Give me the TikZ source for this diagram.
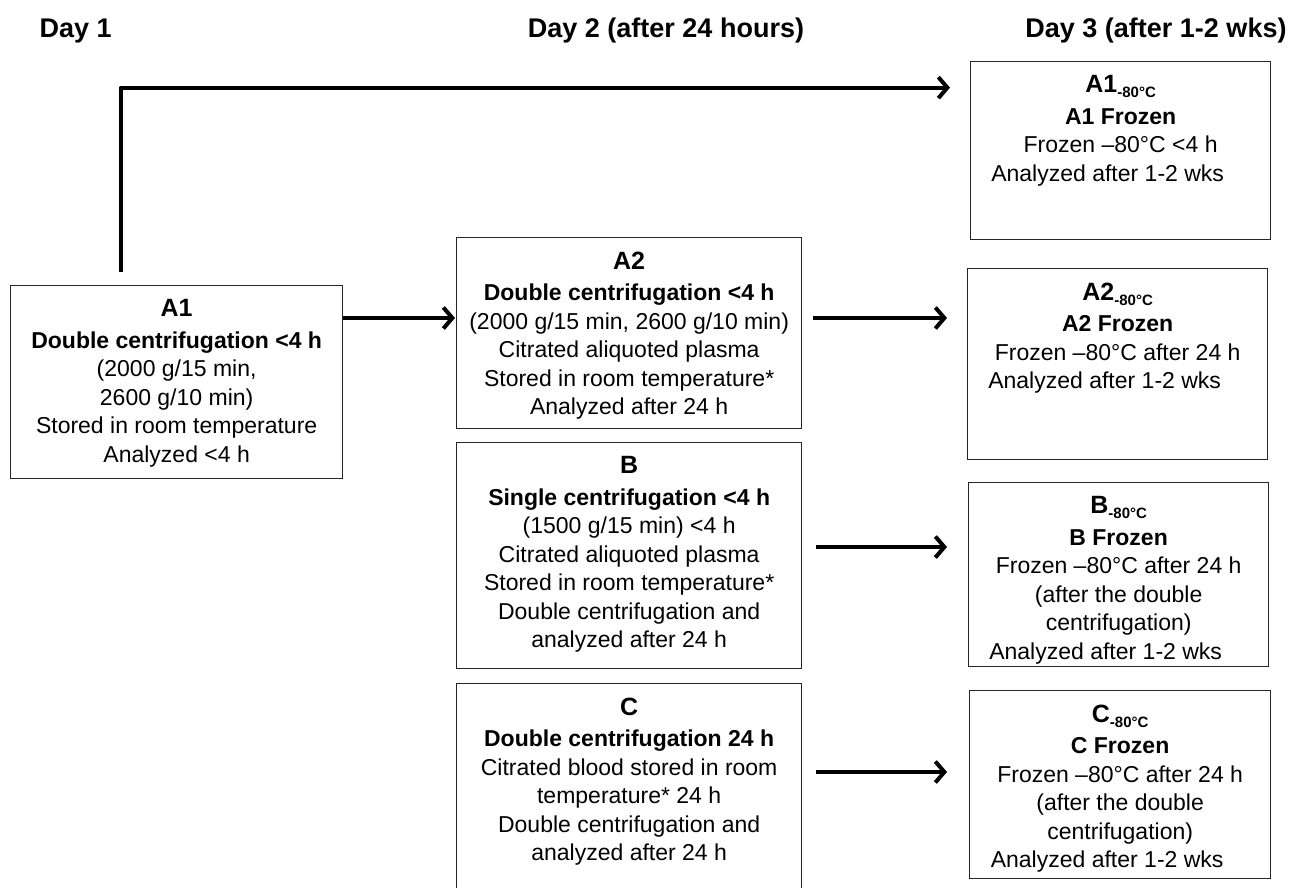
\documentclass[tikz,border=0pt]{standalone}
\usepackage{fontspec}
\setmainfont{Liberation Sans}
\usetikzlibrary{arrows.meta}
\usetikzlibrary{positioning}

\newcommand{\stagetext}[3]{\parbox[c][#2][t]{#1}{\centering #3}}
\newcommand{\ttl}[1]{{\fontsize{25}{30}\selectfont\bfseries #1}\\[3pt]}
\newcommand{\cold}{\raisebox{-5pt}{\fontsize{15}{15}\selectfont -80°C}}

\begin{document}
\begin{tikzpicture}[x=1pt,y=-1pt,
  stage/.style={draw=black!85,line width=1.3pt,inner xsep=0pt,inner ysep=14pt,anchor=north west,font=\fontsize{23}{28.5}\selectfont},
  flow/.style={line width=4pt,line join=round,-{Straight Barb[length=9pt,width=21pt]}},
  day/.style={font=\fontsize{27}{32}\selectfont\bfseries,anchor=base}]
\useasboundingbox (0,0) rectangle (1298,888);
\node[day,anchor=base west] (d1) at (36,38) {Day 1};
\node[day] (d2) at (666,38) {Day 2 (after 24 hours)};
\node[day] (d3) at (1156,38) {Day 3 (after 1-2 wks)};

\node[stage] (a1) at (10,285) {\stagetext{332pt}{165pt}{\ttl{A1}\textbf{Double centrifugation <4 h}\\(2000 g/15 min,\\2600 g/10 min)\\Stored in room temperature\\Analyzed <4 h}};
\node[stage] (a2) at (456,237) {\stagetext{345pt}{163pt}{\ttl{A2}\textbf{Double centrifugation <4 h}\\(2000 g/15 min, 2600 g/10 min)\\Citrated aliquoted plasma\\Stored in room temperature*\\Analyzed after 24 h}};
\node[stage] (b) at (456,442) {\stagetext{345pt}{198pt}{\ttl{B}\textbf{Single centrifugation <4 h}\\(1500 g/15 min) <4 h\\Citrated aliquoted plasma\\Stored in room temperature*\\Double centrifugation and\\analyzed after 24 h}};
\node[stage] (c) at (456,683) {\stagetext{345pt}{179pt}{\ttl{C}\textbf{Double centrifugation 24 h}\\Citrated blood stored in room\\temperature* 24 h\\Double centrifugation and\\analyzed after 24 h}};

\node[stage] (a180) at (970,61) {\stagetext{300pt}{150pt}{\ttl{A1\cold}\textbf{A1 Frozen}\\Frozen –80°C <4 h\\Analyzed after 1-2 wks\hspace*{26pt}\mbox{}}};
\node[stage] (a280) at (967,268) {\stagetext{300pt}{163pt}{\ttl{A2\cold}\textbf{A2 Frozen}\\Frozen –80°C after 24 h\\Analyzed after 1-2 wks\hspace*{26pt}\mbox{}}};
\node[stage] (b80) at (968,482) {\stagetext{300pt}{156pt}{\ttl{B\cold}\textbf{B Frozen}\\Frozen –80°C after 24 h\\(after the double\\centrifugation)\\Analyzed after 1-2 wks\hspace*{26pt}\mbox{}}};
\node[stage] (c80) at (969,690) {\stagetext{301pt}{160pt}{\ttl{C\cold}\textbf{C Frozen}\\Frozen –80°C after 24 h\\(after the double\\centrifugation)\\Analyzed after 1-2 wks\hspace*{26pt}\mbox{}}};

\draw[flow,shorten <=13pt,shorten >=20pt] ([xshift=-56pt]a1.north) |- ([yshift=63pt]a180.west);
\draw[flow,shorten >=1pt] (a1.east |- 0,318) -- (a2.west |- 0,318);
\draw[flow,shorten <=11pt,shorten >=20pt] (a2.east |- 0,318) -- (a280.west |- 0,318);
\draw[flow,shorten <=14pt,shorten >=21pt] (b.east |- 0,547) -- (b80.west |- 0,547);
\draw[flow,shorten <=14pt,shorten >=22pt] (c.east |- 0,772) -- (c80.west |- 0,772);
\end{tikzpicture}
\end{document}
